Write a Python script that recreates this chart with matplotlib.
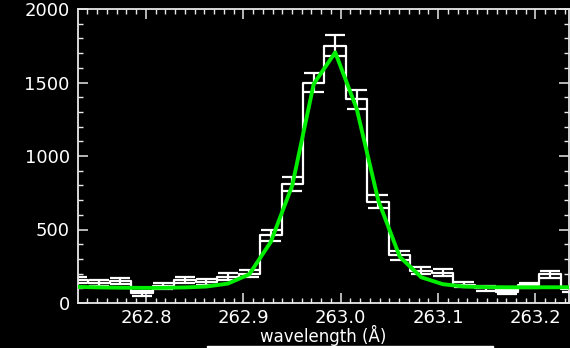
import matplotlib
matplotlib.use('Agg')
import matplotlib.pyplot as plt
from matplotlib.patches import Rectangle
from matplotlib.ticker import MultipleLocator

# bin centres (Angstrom)
wavelength = [262.7296, 262.7516, 262.7737, 262.7958, 262.8178, 262.8399,
              262.8620, 262.8841, 262.9061, 262.9282, 262.9503, 262.9723,
              262.9944, 263.0165, 263.0385, 263.0606, 263.0827, 263.1048,
              263.1268, 263.1489, 263.1710, 263.1930, 263.2151, 263.2372]

# measured intensity per bin and its error
counts = [155, 135, 150, 65, 115, 155,
          145, 180, 200, 460, 810, 1500,
          1750, 1385, 690, 325, 220, 205,
          125, 100, 75, 120, 195, 95]
errors = [21, 20, 21, 14, 18, 21,
          20, 23, 24, 37, 48, 65,
          72, 65, 43, 30, 25, 24,
          19, 17, 15, 19, 24, 17]

# fitted profile sampled at the same bin centres
fit = [110, 106, 104, 103, 103, 106,
       112, 132, 195, 415, 800, 1490,
       1705, 1320, 700, 315, 175, 128,
       112, 108, 107, 107, 107, 107]

xticks = [262.8, 262.9, 263.0, 263.1, 263.2]
yticks = [0, 500, 1000, 1500, 2000]

fig = plt.figure(figsize=(5.7, 3.48), dpi=100, facecolor='black')
ax = fig.add_axes([78 / 570, 1 - 303 / 348, 490.5 / 570, 294 / 348])
ax.set_facecolor('black')

ax.step(wavelength, counts, where='mid', color='white', lw=1.6, zorder=2)
ax.errorbar(wavelength, counts, yerr=errors, fmt='none', ecolor='white',
            elinewidth=1.6, capsize=7, capthick=1.6, zorder=2)
ax.plot(wavelength, fit, color='#00ee00', lw=2.8, zorder=3)

ax.set_xlim(262.7303, 263.2339)
ax.set_ylim(0, 2000)
ax.set_xticks(xticks)
ax.set_xticklabels([f'{t:.1f}' for t in xticks])
ax.set_yticks(yticks)
ax.xaxis.set_minor_locator(MultipleLocator(0.01))
ax.yaxis.set_minor_locator(MultipleLocator(100))

ax.tick_params(which='both', direction='in', top=True, right=True,
               colors='#e8e8e8', labelcolor='white', labelsize=13)
ax.tick_params(which='major', length=7.5, width=1.1)
ax.tick_params(which='minor', length=3.6, width=1.0)
ax.tick_params(axis='x', pad=4)
ax.tick_params(axis='y', pad=6)
for sp in ax.spines.values():
    sp.set_color('#e8e8e8')
    sp.set_linewidth(1.3)

# the reference cuts this label at the bottom edge; keep it just inside
fig.text(323 / 570, 2 / 348, 'wavelength (Å)', color='white', fontsize=12,
         ha='center', va='bottom')

# white bar along the bottom edge of the image
fig.patches.append(Rectangle((207 / 570, 0), (493 - 207) / 570, 1.8 / 348,
                             transform=fig.transFigure, color='white'))

fig.savefig('out.png', dpi=100, facecolor='black')
